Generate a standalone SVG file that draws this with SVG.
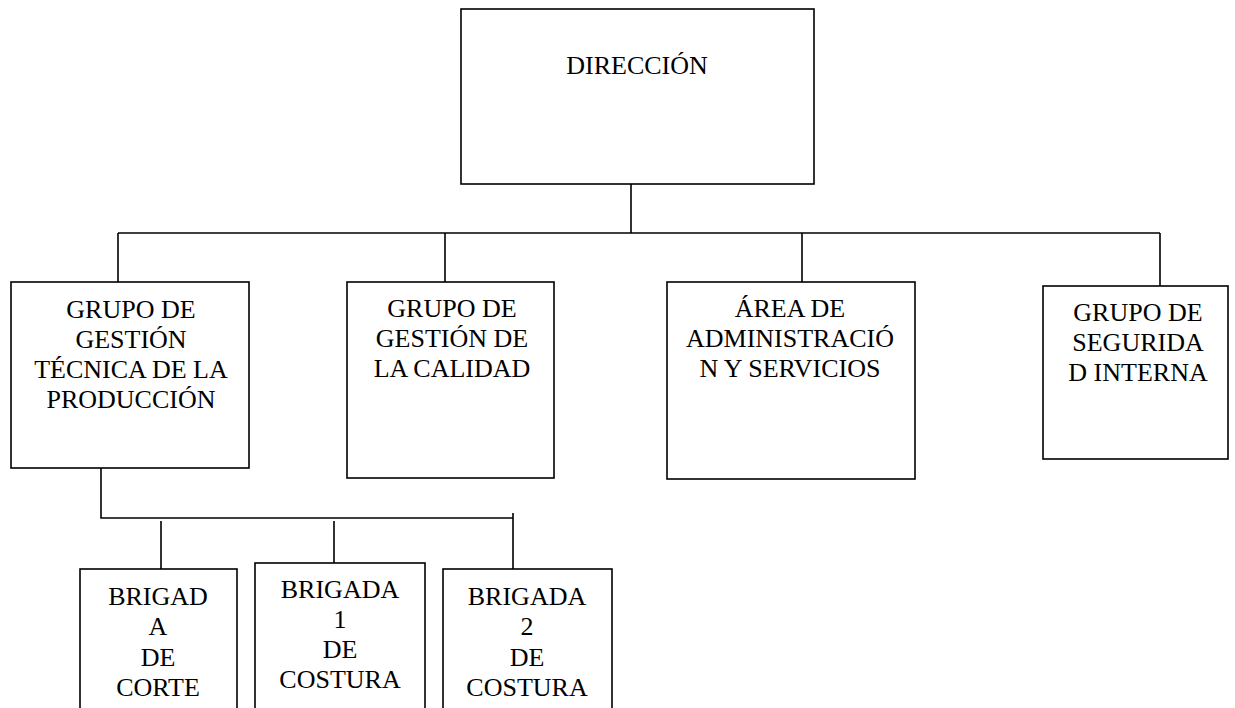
<svg xmlns="http://www.w3.org/2000/svg" width="1235" height="708" viewBox="0 0 1235 708">
<style>
.box{fill:#fff;stroke:#000;stroke-width:1.6}
.ln{fill:none;stroke:#000;stroke-width:1.6}
text{font-family:'Liberation Serif','Times New Roman',Tinos,'DejaVu Serif',serif;font-size:26px;fill:#000;text-anchor:middle}
</style>
<rect width="1235" height="708" fill="#fff"/>
<g id="connectors">
<path class="ln" d="M631 184V233M118 233H1160M118 233V282M445 233V282M802 233V282M1160 233V286"/>
<path class="ln" d="M101 468V518H513M161 521V569M334 521V563M513 513V569"/>
</g>
<g id="direccion">
<rect class="box" x="461" y="9" width="353" height="175"/>
<text x="637" y="74">DIRECCIÓN</text>
</g>
<g id="gestion-tecnica">
<rect class="box" x="11" y="282" width="238" height="186"/>
<text x="131" y="318">GRUPO DE</text>
<text x="131" y="348">GESTIÓN</text>
<text x="131" y="378">TÉCNICA DE LA</text>
<text x="131" y="408">PRODUCCIÓN</text>
</g>
<g id="gestion-calidad">
<rect class="box" x="347" y="282" width="207" height="196"/>
<text x="452" y="317">GRUPO DE</text>
<text x="452" y="347">GESTIÓN DE</text>
<text x="452" y="377">LA CALIDAD</text>
</g>
<g id="administracion">
<rect class="box" x="667" y="282" width="248" height="197"/>
<text x="790" y="317">ÁREA DE</text>
<text x="790" y="347">ADMINISTRACIÓ</text>
<text x="790" y="377">N Y SERVICIOS</text>
</g>
<g id="seguridad">
<rect class="box" x="1043" y="286" width="185" height="173"/>
<text x="1138" y="321">GRUPO DE</text>
<text x="1138" y="351">SEGURIDA</text>
<text x="1138" y="381">D INTERNA</text>
</g>
<g id="brigada-corte">
<rect class="box" x="80" y="569" width="157" height="160"/>
<text x="158" y="605">BRIGAD</text>
<text x="158" y="635">A</text>
<text x="158" y="666">DE</text>
<text x="158" y="696">CORTE</text>
</g>
<g id="brigada-1">
<rect class="box" x="255" y="563" width="170" height="166"/>
<text x="340" y="598">BRIGADA</text>
<text x="340" y="628">1</text>
<text x="340" y="658">DE</text>
<text x="340" y="688">COSTURA</text>
</g>
<g id="brigada-2">
<rect class="box" x="443" y="569" width="169" height="160"/>
<text x="527" y="605">BRIGADA</text>
<text x="527" y="635">2</text>
<text x="527" y="666">DE</text>
<text x="527" y="696">COSTURA</text>
</g>
</svg>
